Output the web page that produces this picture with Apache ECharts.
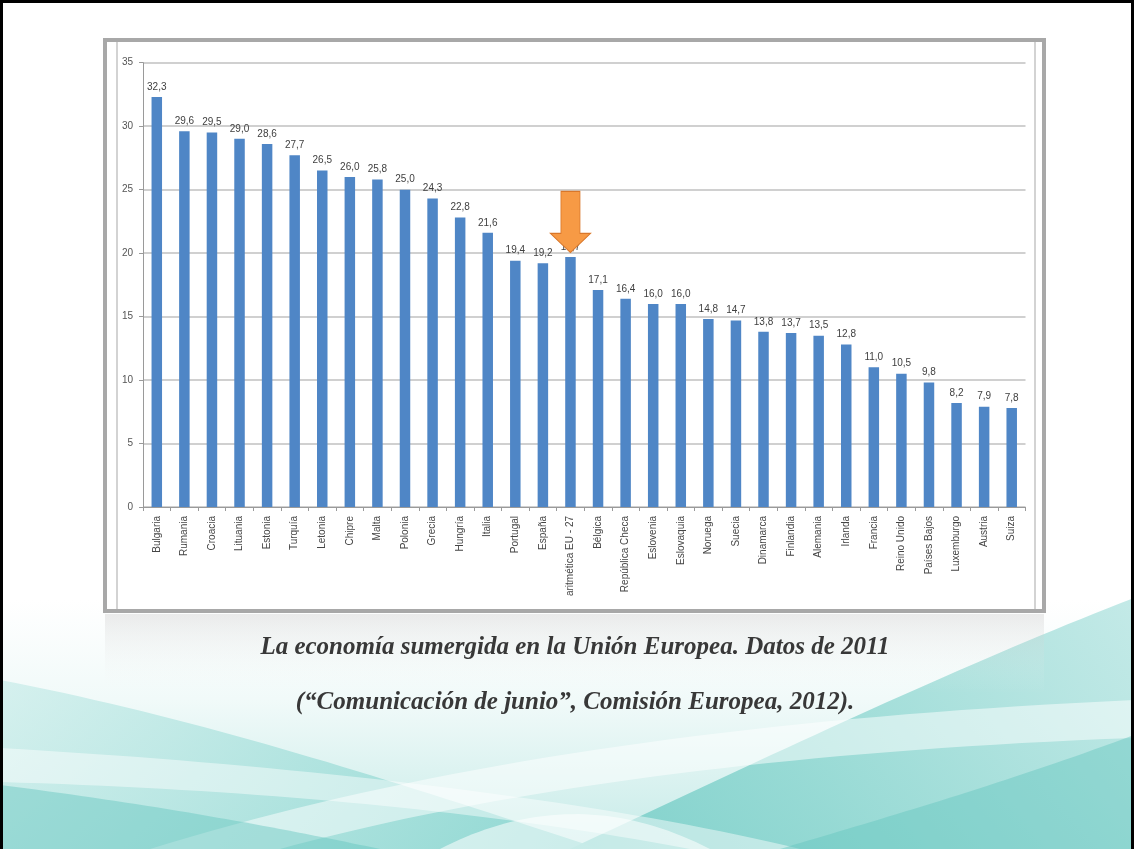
<!DOCTYPE html>
<html>
<head>
<meta charset="utf-8">
<script src="https://cdn.jsdelivr.net/npm/echarts@6/dist/echarts.min.js"></script>
<style>
html,body{margin:0;padding:0;background:#fff;}
#c{width:1134px;height:849px;}
</style>
</head>
<body>
<div id="c"></div>
<script>
const categories = ["Bulgaria","Rumania","Croacia","Lituania","Estonia","Turquía","Letonia","Chipre","Malta","Polonia","Grecia","Hungría","Italia","Portugal","España","aritmética EU - 27","Bélgica","República Checa","Eslovenia","Eslovaquia","Noruega","Suecia","Dinamarca","Finlandia","Alemania","Irlanda","Francia","Reino Unido","Países Bajos","Luxemburgo","Austria","Suiza"];
const values = [32.3,29.6,29.5,29.0,28.6,27.7,26.5,26.0,25.8,25.0,24.3,22.8,21.6,19.4,19.2,19.7,17.1,16.4,16.0,16.0,14.8,14.7,13.8,13.7,13.5,12.8,11.0,10.5,9.8,8.2,7.9,7.8];
const yTicks = [0,5,10,15,20,25,30,35];
const highlightIndex = 15;
const captionLines = ["La economía sumergida en la Unión Europea. Datos de 2011","(“Comunicación de junio”, Comisión Europea, 2012)."];

const chart = echarts.init(document.getElementById('c'), null, {renderer:'canvas'});

function lg(x0,y0,x1,y1,stops){return new echarts.graphic.LinearGradient(x0,y0,x1,y1,stops.map(s=>({offset:s[0],color:s[1]})));}
function bez(p0,p1,p2,p3,n){const pts=[];for(let i=0;i<=n;i++){const t=i/n,u=1-t;pts.push([u*u*u*p0[0]+3*u*u*t*p1[0]+3*u*t*t*p2[0]+t*t*t*p3[0],u*u*u*p0[1]+3*u*u*t*p1[1]+3*u*t*t*p2[1]+t*t*t*p3[1]]);}return pts;}
function shape(segs,extra){let pts=[];segs.forEach(s=>{pts=pts.concat(bez(s[0],s[1],s[2],s[3],40));});return pts.concat(extra||[]);}

const bg = [
  {type:'rect', shape:{x:0,y:600,width:1134,height:249}, style:{fill:lg(0,0,0,1,[[0,'rgba(255,255,255,1)'],[0.4,'#f1faf9'],[1,'#c6ebe8']])}, z:-10, silent:true},
  // right big sweep
  {type:'polygon', shape:{points:shape([[[1134,598],[960,665],[760,760],[570,849]]],[[1134,849]])}, style:{fill:lg(1,0,0,1,[[0,'rgba(185,230,227,0.85)'],[0.6,'rgba(140,214,208,0.85)'],[1,'rgba(120,206,200,0.9)']])}, z:-9, silent:true},
  // left sweep
  {type:'polygon', shape:{points:shape([[[0,680],[210,720],[420,790],[600,849]]],[[0,849]])}, style:{fill:lg(0,0,1,1,[[0,'rgba(200,236,233,0.7)'],[1,'rgba(130,211,205,0.85)']])}, z:-9, silent:true},
  // white band rising to the right
  {type:'polygon', shape:{points:shape([[[150,849],[420,765],[740,718],[1134,700]],[[1134,738],[750,752],[470,797],[280,849]]])}, style:{fill:'rgba(255,255,255,0.5)'}, z:-8, silent:true},
  // white band from left to center bottom
  {type:'polygon', shape:{points:shape([[[0,748],[300,765],[600,800],[800,849]],[[690,849],[510,815],[280,790],[0,782]]])}, style:{fill:'rgba(255,255,255,0.45)'}, z:-8, silent:true},
  // darker corners
  {type:'polygon', shape:{points:shape([[[0,785],[160,805],[290,830],[380,849]]],[[0,849]])}, style:{fill:'rgba(100,198,191,0.45)'}, z:-7, silent:true},
  {type:'polygon', shape:{points:shape([[[1134,735],[1000,785],[870,822],[780,849]]],[[1134,849]])}, style:{fill:'rgba(100,198,191,0.45)'}, z:-7, silent:true},
  {type:'polygon', shape:{points:shape([[[440,849],[525,805],[615,800],[710,849]]])}, style:{fill:'rgba(255,255,255,0.55)'}, z:-7, silent:true},
  // faint reflection of the chart under the frame
  {type:'rect', shape:{x:105,y:614,width:939,height:80}, style:{fill:lg(0,0,0,1,[[0,'rgba(190,190,190,0.30)'],[1,'rgba(255,255,255,0)']])}, z:-6, silent:true},
  // chart frame
  {type:'rect', shape:{x:105,y:40,width:939,height:571}, style:{fill:'#ffffff', stroke:'#a8a8a8', lineWidth:4}, z:-5, silent:true},
  {type:'line', shape:{x1:117,y1:42,x2:117,y2:609}, style:{stroke:'#c4c4c4', lineWidth:1.5}, z:-4, silent:true},
  {type:'line', shape:{x1:1035,y1:42,x2:1035,y2:609}, style:{stroke:'#c4c4c4', lineWidth:1.5}, z:-4, silent:true},
  // caption
  {type:'text', x:575, y:648, style:{text:captionLines[0], fill:'#383838', font:'italic bold 25px "Liberation Serif", serif', textAlign:'center', textVerticalAlign:'middle'}, z:5},
  {type:'text', x:575, y:703, style:{text:captionLines[1], fill:'#383838', font:'italic bold 25px "Liberation Serif", serif', textAlign:'center', textVerticalAlign:'middle'}, z:5},
  // slide border (top, left, right)
  {type:'polyline', shape:{points:[[1.5,849],[1.5,1.5],[1132.5,1.5],[1132.5,849]]}, style:{fill:null, stroke:'#000', lineWidth:3}, z:20, silent:true}
];

const option = {
  backgroundColor:'#ffffff',
  animation:false,
  graphic: bg,
  grid:{left:143, right:108.5, top:62.7, bottom:342, containLabel:false},
  xAxis:{
    type:'category', data:categories,
    axisLine:{lineStyle:{color:'#9a9a9a', width:1}},
    axisTick:{show:true, length:4, inside:false, lineStyle:{color:'#9a9a9a'}},
    axisLabel:{interval:0, rotate:90, margin:9, fontSize:10, color:'#454545', fontFamily:'"Liberation Sans", Arial, sans-serif'}
  },
  yAxis:{
    type:'value', min:0, max:35, interval:5,
    axisLine:{show:true, lineStyle:{color:'#9a9a9a'}},
    axisTick:{show:true, length:4, lineStyle:{color:'#9a9a9a'}},
    axisLabel:{margin:10, fontSize:10, color:'#555555', fontFamily:'"Liberation Sans", Arial, sans-serif',
      formatter:v=> yTicks.includes(v)? String(v):''},
    splitLine:{show:true, lineStyle:{color:'#c0c0c0', width:1.5}}
  },
  series:[{
    type:'bar', data:values, barWidth:10.5,
    itemStyle:{color:'#4f86c6'},
    label:{show:true, position:'top', distance:5, fontSize:10, color:'#404040', fontFamily:'"Liberation Sans", Arial, sans-serif',
      formatter:p=>p.value.toFixed(1).replace('.',',')},
    markPoint:{
      silent:true,
      symbol:'path://M10.5,0 L29.5,0 L29.5,42 L40,42 L20,61 L0,42 L10.5,42 Z',
      symbolSize:[40,61], symbolKeepAspect:false,
      symbolOffset:[0,-35],
      itemStyle:{color:'#f79a45', borderColor:'#d9772a', borderWidth:1},
      label:{show:false},
      data:[{coord:[highlightIndex, values[highlightIndex]]}]
    }
  }]
};
chart.setOption(option);
</script>
</body>
</html>
